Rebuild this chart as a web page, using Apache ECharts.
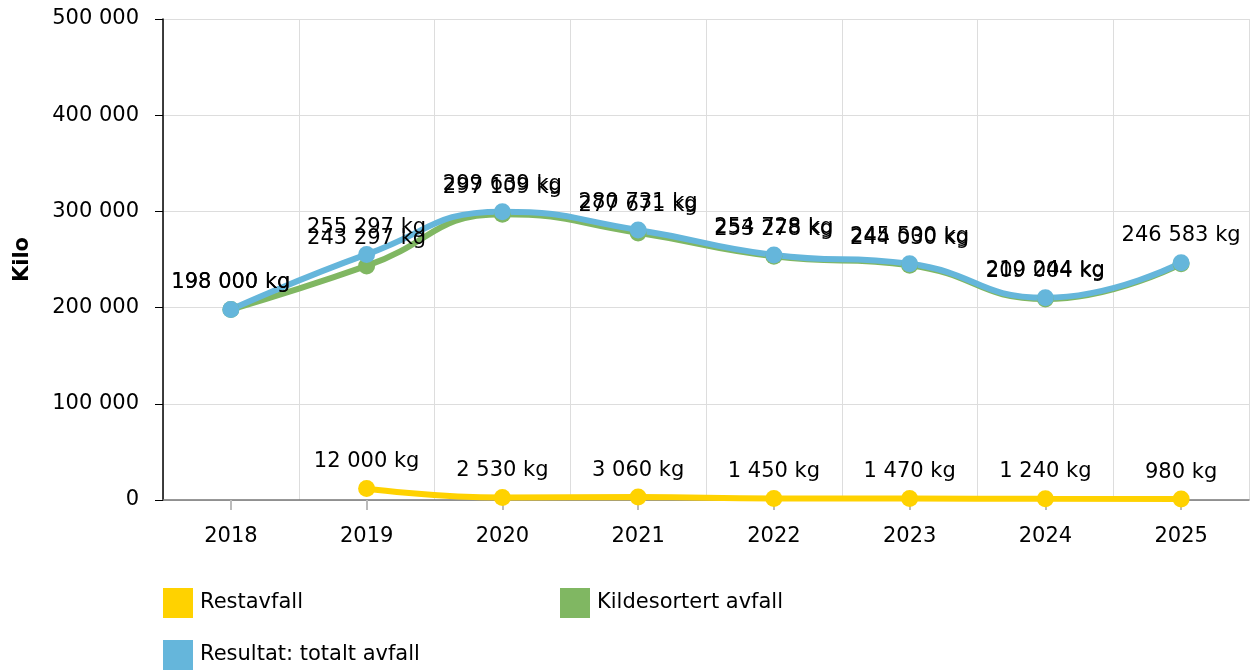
<!DOCTYPE html>
<html>
<head>
<meta charset="utf-8">
<script src="https://cdn.jsdelivr.net/npm/echarts@6/dist/echarts.min.js"></script>
<style>
html,body{margin:0;padding:0;background:#fff;}
#chart{width:1260px;height:670px;}
</style>
</head>
<body>
<div id="chart"></div>
<script>
var years = ['2018','2019','2020','2021','2022','2023','2024','2025'];
var restavfall = [null, 12000, 2530, 3060, 1450, 1470, 1240, 980];
var kildesortert = [198000, 243297, 297109, 277671, 253278, 244030, 209004, 245603];
var totalt = [198000, 255297, 299639, 280731, 254728, 245500, 210244, 246583];
var seriesNames = ['Restavfall', 'Kildesortert avfall', 'Resultat: totalt avfall'];
var yTicks = [0, 100000, 200000, 300000, 400000, 500000];

var FONT = 'DejaVu Sans';
var FS = 21;
function fmt(v){ return String(Math.round(v)).replace(/\B(?=(\d{3})+(?!\d))/g, ' '); }
var colors = ['#FFD200', '#80B762', '#65B6DB'];

function mkSeries(name, data, color, hideLast){
  return {
    name: name, type: 'line', smooth: true, data: data.map(function(v, i){
      if (hideLast && i === data.length - 1) return {value: v, label: {show: false}};
      return v;
    }),
    connectNulls: false,
    symbol: 'circle', symbolSize: 17,
    lineStyle: {width: 6, color: color},
    itemStyle: {color: color},
    label: {show: true, position: 'top', distance: 8, color: '#000', fontFamily: FONT, fontSize: FS,
      formatter: function(p){ return fmt(p.value) + ' kg'; }},
    emphasis: {disabled: true},
    animation: false
  };
}

var legendText = {fontFamily: FONT, fontSize: FS, color: '#000', padding: [0,0,0,2]};
var chart = echarts.init(document.getElementById('chart'), null, {renderer: 'canvas'});
chart.setOption({
  backgroundColor: '#fff',
  animation: false,
  textStyle: {fontFamily: FONT},
  grid: {left: 163, right: 11, top: 19, bottom: 170},
  legend: [
    {data: [seriesNames[0]], left: 158, top: 583, icon: 'rect', itemWidth: 30, itemHeight: 30, textStyle: legendText},
    {data: [seriesNames[1]], left: 555, top: 583, icon: 'rect', itemWidth: 30, itemHeight: 30, textStyle: legendText},
    {data: [seriesNames[2]], left: 158, top: 635, icon: 'rect', itemWidth: 30, itemHeight: 30, textStyle: legendText}
  ],
  xAxis: {
    type: 'category', data: years, boundaryGap: true,
    axisLine: {lineStyle: {color: '#777', width: 1.5}},
    axisTick: {show: true, alignWithLabel: true, length: 10, lineStyle: {color: '#bbb', width: 2}},
    axisLabel: {color: '#000', fontFamily: FONT, fontSize: FS, margin: 26},
    splitLine: {show: true, lineStyle: {color: '#ddd', width: 1}}
  },
  yAxis: {
    type: 'value', min: 0, max: 500000, interval: 100000,
    name: 'Kilo', nameLocation: 'middle', nameGap: 130, nameRotate: 90,
    nameTextStyle: {fontFamily: FONT, fontSize: FS, fontWeight: 'bold', color: '#000'},
    axisLine: {show: true, lineStyle: {color: '#000', width: 1.5}},
    axisTick: {show: true, length: 8, lineStyle: {color: '#000'}},
    axisLabel: {color: '#000', fontFamily: FONT, fontSize: FS, margin: 24, formatter: function(v){ return fmt(v); }},
    splitLine: {show: true, lineStyle: {color: '#ddd', width: 1}}
  },
  series: [
    mkSeries(seriesNames[0], restavfall, colors[0], false),
    mkSeries(seriesNames[1], kildesortert, colors[1], true),
    mkSeries(seriesNames[2], totalt, colors[2], false)
  ]
});
</script>
</body>
</html>
